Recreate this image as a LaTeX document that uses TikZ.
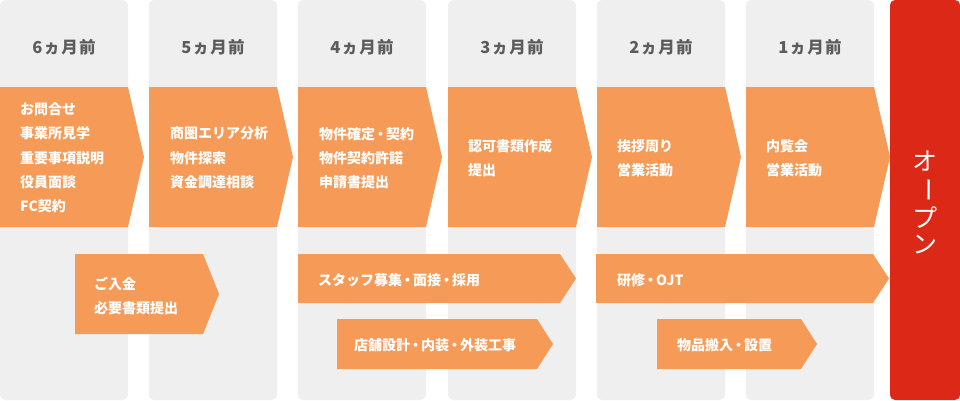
\documentclass[tikz,border=0pt]{standalone}
\usepackage{fontspec}
\setmainfont{Noto Sans CJK JP}
\definecolor{colgray}{RGB}{239,239,239}
\definecolor{arroworange}{RGB}{245,155,87}
\definecolor{openred}{RGB}{220,40,22}
\definecolor{headgray}{RGB}{92,92,92}
\newcommand\chevshape[4]{\fill[arroworange] (#1,#2) -- (#3,#2) -- ({#3+16},{(#2+#4)/2}) -- (#3,#4) -- (#1,#4) -- cycle;}
\newcommand\ndot{\kern-1.5pt・\kern-1.5pt}
\newcommand\hd[1]{#1\kern1.2pt ヵ\kern1.2pt 月\kern1.2pt 前}
\tikzset{
  colbox/.style={fill=colgray, rounded corners=5pt},
  headtext/.style={text=headgray, font=\fontsize{16.5}{20}\selectfont\bfseries, inner sep=0pt},
  steptext/.style={text=white, font=\fontsize{14}{24.3}\selectfont\bfseries, align=left, anchor=west, inner sep=0pt},
  opentext/.style={text=white, font=\fontsize{25}{28}\selectfont, inner sep=0pt},
}
\begin{document}
\begin{tikzpicture}[x=1pt,y=-1pt]
\useasboundingbox (0,0) rectangle (960,400);
% columns
\foreach \cx in {0,149,298,448,597,746} {
  \fill[colbox] (\cx,0) rectangle ({\cx+128},400);
}
\fill[openred, rounded corners=5pt] (890,0) rectangle (960,400);
% headers
\node[headtext] (h6) at (64,47) {\hd{6}};
\node[headtext] (h5) at (213,47) {\hd{5}};
\node[headtext] (h4) at (362,47) {\hd{4}};
\node[headtext] (h3) at (512,47) {\hd{3}};
\node[headtext] (h2) at (661,47) {\hd{2}};
\node[headtext] (h1) at (810,47) {\hd{1}};
% top chevrons
\foreach \cx in {0,149,298,448,597,746} {
  \chevshape{\cx}{87}{\cx+128}{227}
}
\node[steptext] (t6) at (20,158) {お問合せ\\事業所見学\\重要事項説明\\役員面談\\FC契約};
\node[steptext] (t5) at (170,158) {商圏エリア分析\\物件探索\\資金調達相談};
\node[steptext] (t4) at (319,158) {物件確定\ndot 契約\\物件契約許諾\\申請書提出};
\node[steptext] (t3) at (468,158) {認可書類作成\\提出};
\node[steptext] (t2) at (617,158) {挨拶周り\\営業活動};
\node[steptext] (t1) at (766,158) {内覧会\\営業活動};
% bottom chevrons
\chevshape{75}{254}{203}{334}
\chevshape{298}{254}{560}{303}
\chevshape{337}{319}{537}{369}
\chevshape{596}{254}{873}{303}
\chevshape{657}{319}{801}{369}
\node[steptext] (b1) at (94,296) {ご入金\\必要書類提出};
\node[steptext] (b2) at (318,280) {スタッフ募集\ndot 面接\ndot 採用};
\node[steptext] (b3) at (354,345) {店舗設計\ndot 内装\ndot 外装工事};
\node[steptext] (b4) at (617,280) {研修\ndot OJT};
\node[steptext] (b5) at (677,345) {物品搬入\ndot 設置};
% open
\node[opentext] (o1) at (925,161) {オ};
\node[opentext, rotate=-90] (o2) at (925,190) {ー};
\node[opentext] (o3) at (925,218) {プ};
\node[opentext] (o4) at (925,245) {ン};
\end{tikzpicture}
\end{document}
